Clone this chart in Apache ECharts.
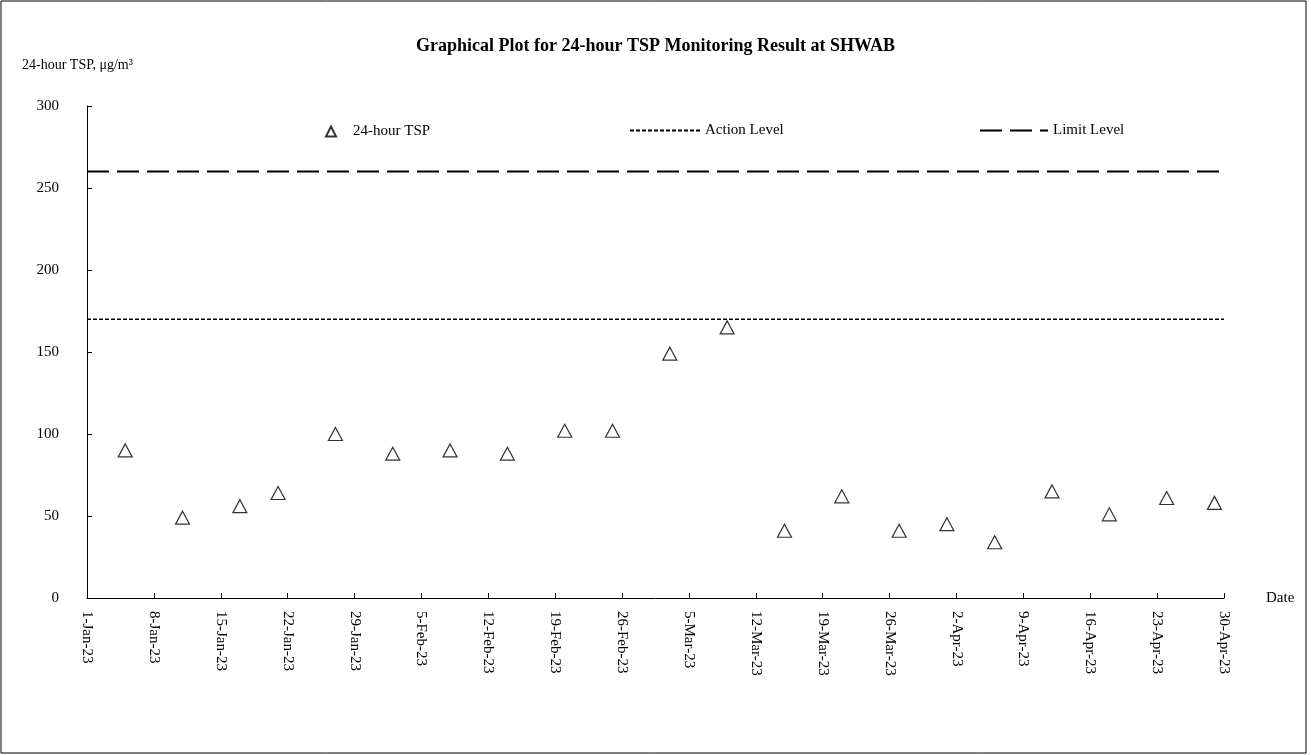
<!DOCTYPE html>
<html>
<head>
<meta charset="UTF-8">
<title>24-hour TSP at SHWAB</title>
<script src="https://cdn.jsdelivr.net/npm/echarts@6/dist/echarts.min.js"></script>
<style>
	html, body { margin: 0; padding: 0; background: #fff; }
	#chart { width: 1311px; height: 755px; }
</style>
</head>
<body>
<div id="chart"></div>
<script>
// measurement dates and 24-hour TSP (ug/m3)
var sampleDates = ['2023-01-05', '2023-01-11', '2023-01-17', '2023-01-21', '2023-01-27',
	'2023-02-02', '2023-02-08', '2023-02-14', '2023-02-20', '2023-02-25',
	'2023-03-03', '2023-03-09', '2023-03-15', '2023-03-21', '2023-03-27',
	'2023-04-01', '2023-04-06', '2023-04-12', '2023-04-18', '2023-04-24', '2023-04-29'];
var tspValues = [90, 49, 56, 64, 100, 88, 90, 88, 102, 102,
	149, 165, 41, 62, 41, 45, 34, 65, 51, 61, 58];

// levels
var actionLevel = 170;
var limitLevel = 260;

// axis range
var startDate = '2023-01-01';
var endDate = '2023-04-30';
var tickDays = 7;
var yTicks = [0, 50, 100, 150, 200, 250, 300];

var months = ['Jan','Feb','Mar','Apr','May','Jun','Jul','Aug','Sep','Oct','Nov','Dec'];
var DAY = 86400000;

function toDay(s){
	var p = s.split('-');
	var t = Date.UTC(+p[0], +p[1]-1, +p[2]);
	var p0 = startDate.split('-');
	return Math.round((t - Date.UTC(+p0[0], +p0[1]-1, +p0[2])) / DAY);
}
function dayLabel(d){
	var p0 = startDate.split('-');
	var dt = new Date(Date.UTC(+p0[0], +p0[1]-1, +p0[2]) + d*DAY);
	return dt.getUTCDate() + '-' + months[dt.getUTCMonth()] + '-' + String(dt.getUTCFullYear()).slice(2);
}

var maxDay = toDay(endDate);
var scatterData = sampleDates.map(function(d, i){ return [toDay(d), tspValues[i]]; });

var font = '"Liberation Serif", "DejaVu Serif", serif';
var chart = echarts.init(document.getElementById('chart'));

chart.setOption({
	backgroundColor: '#fff',
	animation: false,
	textStyle: { fontFamily: font, color: '#000' },
	title: {
		text: 'Graphical Plot for 24-hour TSP Monitoring Result at SHWAB',
		left: 'center',
		top: 32,
		textStyle: { fontFamily: font, fontSize: 18, fontWeight: 'bold', color: '#000' }
	},
	legend: [
		{
			data: ['24-hour TSP'],
			left: 320, top: 119,
			itemWidth: 10, itemHeight: 10, itemGap: 10,
			textStyle: { fontFamily: font, fontSize: 15, color: '#000', padding: [0, 0, 0, 12] }
		},
		{
			data: ['Action Level'],
			left: 624, top: 118,
			itemWidth: 70, itemHeight: 10,
			itemStyle: { color: 'rgba(0,0,0,0)', borderWidth: 0 },
			textStyle: { fontFamily: font, fontSize: 15, color: '#000' }
		},
		{
			data: ['Limit Level'],
			left: 974, top: 118,
			itemWidth: 68, itemHeight: 10,
			itemStyle: { color: 'rgba(0,0,0,0)', borderWidth: 0 },
			textStyle: { fontFamily: font, fontSize: 15, color: '#000' }
		}
	],
	grid: { left: 87, right: 87, top: 106, bottom: 157 },
	xAxis: {
		type: 'value',
		min: 0,
		max: maxDay,
		interval: tickDays,
		name: 'Date',
		nameLocation: 'end',
		nameGap: 42,
		nameTextStyle: { fontFamily: font, fontSize: 15, color: '#000', verticalAlign: 'middle' },
		axisLine: { lineStyle: { color: '#000', width: 1 } },
		axisTick: { inside: true, length: 5, lineStyle: { color: '#000' } },
		splitLine: { show: false },
		axisLabel: {
			rotate: -90,
			margin: 13,
			fontFamily: font,
			fontSize: 15,
			color: '#000',
			formatter: function(v){ return dayLabel(v); }
		}
	},
	yAxis: {
		type: 'value',
		min: yTicks[0],
		max: yTicks[yTicks.length-1],
		interval: yTicks[1] - yTicks[0],
		name: '24-hour TSP, \u03bcg/m\u00b3',
		nameLocation: 'end',
		nameGap: 34,
		nameTextStyle: { fontFamily: font, fontSize: 14, color: '#000', align: 'left', padding: [0, 0, 0, -65] },
		axisLine: { show: true, lineStyle: { color: '#000', width: 1 } },
		axisTick: { show: true, inside: true, length: 5, lineStyle: { color: '#000' } },
		splitLine: { show: false },
		axisLabel: { fontFamily: font, fontSize: 15, color: '#000', margin: 28 }
	},
	series: [
		{
			name: '24-hour TSP',
			type: 'scatter',
			data: scatterData,
			symbol: 'triangle',
			symbolSize: [14, 13],
			itemStyle: { color: '#fff', borderColor: '#000', borderWidth: 1.2 }
		},
		{
			name: 'Action Level',
			type: 'line',
			data: [[0, actionLevel], [maxDay, actionLevel]],
			symbol: 'none',
			lineStyle: { color: '#000', width: 1.5, type: [4, 2] },
			itemStyle: { color: '#000' }
		},
		{
			name: 'Limit Level',
			type: 'line',
			data: [[0, limitLevel], [maxDay, limitLevel]],
			symbol: 'none',
			lineStyle: { color: '#000', width: 2, type: [22, 8] },
			itemStyle: { color: '#000' }
		}
	],
	graphic: [
		{
			type: 'rect',
			shape: { x: 1, y: 1, width: 1305, height: 752 },
			style: { fill: 'none', stroke: '#000', lineWidth: 1 },
			silent: true
		}
	]
});
</script>
</body>
</html>
